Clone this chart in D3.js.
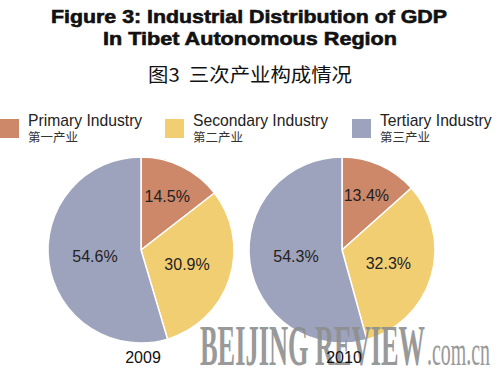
<!DOCTYPE html>
<html>
<head>
<meta charset="utf-8">
<script src="https://cdn.jsdelivr.net/npm/d3@7"></script>
<style>
  html, body { margin: 0; padding: 0; background: #fff; }
  svg { display: block; }
</style>
</head>
<body>
<svg id="chart" width="500" height="369"></svg>
<script>
// ---- data ----
const categories = ["Primary Industry", "Secondary Industry", "Tertiary Industry"];
const categoriesCN = ["第一产业", "第二产业", "第三产业"];
const years = ["2009", "2010"];
const values2009 = [14.5, 30.9, 54.6];
const values2010 = [13.4, 32.3, 54.3];
const colors = ["#CD8769", "#F2CE73", "#9DA3BC"];

const titleLines = ["Figure 3: Industrial Distribution of GDP", "In Tibet Autonomous Region"];
const titleCN = "图3  三次产业构成情况";

// ---- drawing ----
const svg = d3.select("#chart");
const W = 500;
const sans = "'Liberation Sans', Arial, Helvetica, sans-serif";
const cjk = "'Noto Sans CJK SC', sans-serif";

// title
svg.append("text").attr("x", W / 2 - 1).attr("y", 23).attr("text-anchor", "middle")
  .attr("font-family", sans).attr("font-weight", "bold").attr("font-size", 19)
  .attr("fill", "#111").attr("stroke", "#111").attr("stroke-width", 0.6)
  .attr("textLength", 396).attr("lengthAdjust", "spacingAndGlyphs")
  .text(titleLines[0]);
svg.append("text").attr("x", W / 2).attr("y", 45).attr("text-anchor", "middle")
  .attr("font-family", sans).attr("font-weight", "bold").attr("font-size", 19)
  .attr("fill", "#111").attr("stroke", "#111").attr("stroke-width", 0.6)
  .attr("textLength", 294).attr("lengthAdjust", "spacingAndGlyphs")
  .text(titleLines[1]);
svg.append("text").attr("x", W / 2).attr("y", 82).attr("text-anchor", "middle")
  .attr("font-family", cjk).attr("font-size", 19)
  .attr("textLength", 204).attr("lengthAdjust", "spacingAndGlyphs")
  .attr("fill", "#111").attr("xml:space", "preserve").text(titleCN);

// legend
const legendX = d3.scaleOrdinal().domain(categories).range([0, 165, 352]);
const lg = svg.append("g").selectAll("g").data(categories).join("g")
  .attr("transform", d => `translate(${legendX(d)},0)`);
lg.append("rect").attr("x", 0).attr("y", 119).attr("width", 19).attr("height", 19)
  .attr("fill", (d, i) => colors[i]);
lg.append("text").attr("x", 28).attr("y", 126)
  .attr("font-family", sans).attr("font-size", 15.7).attr("fill", "#222")
  .text(d => d);
lg.append("text").attr("x", 28).attr("y", 142)
  .attr("font-family", cjk).attr("font-size", 12.5).attr("fill", "#333")
  .text((d, i) => categoriesCN[i]);

// pies
const R = 93;
const centersX = d3.scaleOrdinal().domain(years).range([141, 342]);
const cy = 250;
const pie = d3.pie().sort(null).value(d => d);
const arc = d3.arc().innerRadius(0).outerRadius(R);
const labelFactor = [0.64, 0.52, 0.5];

const datasets = [values2009, values2010];
years.forEach((yr, yi) => {
  const g = svg.append("g").attr("transform", `translate(${centersX(yr)},${cy})`);
  const arcs = pie(datasets[yi]);
  g.selectAll("path").data(arcs).join("path")
    .attr("d", arc)
    .attr("fill", (d, i) => colors[i])
    .attr("stroke", "#fff").attr("stroke-width", 1.5);
  g.selectAll("text.val").data(arcs).join("text")
    .attr("class", "val")
    .attr("transform", (d, i) => {
      const r = R * labelFactor[i];
      const la = d3.arc().innerRadius(r).outerRadius(r);
      const [x, y] = la.centroid(d);
      return `translate(${x},${y})`;
    })
    .attr("dy", "0.35em")
    .attr("text-anchor", "middle")
    .attr("font-family", sans).attr("font-size", 16).attr("fill", "#222")
    .text(d => d.data.toFixed(1) + "%");
});

// watermark
const wm = svg.append("g").attr("fill", "#8e8e8e").attr("opacity", 0.9)
  .attr("font-family", "'Liberation Serif', 'DejaVu Serif', serif")
  .attr("font-weight", "bold");
wm.append("text").attr("x", 200).attr("y", 365).attr("font-size", 56)
  .attr("textLength", 225).attr("lengthAdjust", "spacingAndGlyphs")
  .text("BEIJING REVIEW");
wm.append("text").attr("x", 427).attr("y", 365).attr("font-size", 42)
  .attr("font-weight", "normal")
  .attr("textLength", 63).attr("lengthAdjust", "spacingAndGlyphs")
  .text(".com.cn");

// year labels
svg.selectAll("text.year").data(years).join("text")
  .attr("class", "year")
  .attr("x", d => centersX(d) + 2).attr("y", 363)
  .attr("text-anchor", "middle")
  .attr("font-family", sans).attr("font-size", 16).attr("fill", "#111")
  .text(d => d);
</script>
</body>
</html>
